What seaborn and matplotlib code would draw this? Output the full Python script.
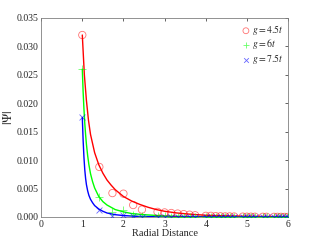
import numpy as np
import matplotlib
matplotlib.use("Agg")
import matplotlib.pyplot as plt
import seaborn as sns

# fitted curves
red_x = [1.0, 1.05, 1.1, 1.15, 1.2, 1.3, 1.4, 1.5, 1.6, 1.7, 1.8, 2.0, 2.2, 2.4, 2.6, 2.8,
         3.0, 3.3, 3.6, 4.0, 4.5, 5.0, 5.5, 6.0]
red_y = [0.032, 0.025, 0.0205, 0.017, 0.0145, 0.0113, 0.0092, 0.0077, 0.0065, 0.0056, 0.0048,
         0.0036, 0.0028, 0.0022, 0.0017, 0.0013, 0.0010, 0.0007, 0.0005, 0.0003, 0.0002,
         0.00012, 0.00008, 0.00005]
green_x = [1.0, 1.02, 1.04, 1.06, 1.08, 1.1, 1.13, 1.16, 1.2, 1.25, 1.3, 1.4, 1.5, 1.6, 1.8,
           2.0, 2.2, 2.5, 3.0, 3.5, 4.0, 5.0, 6.0]
green_y = [0.026, 0.022, 0.019, 0.0165, 0.0145, 0.0128, 0.0108, 0.0092, 0.0076, 0.0062, 0.0051,
           0.0036, 0.0027, 0.0021, 0.0013, 0.0009, 0.0006, 0.0004, 0.00018, 0.00009, 0.00005,
           0.00001, 0.0]
blue_x = [1.0, 1.02, 1.04, 1.06, 1.08, 1.1, 1.13, 1.16, 1.2, 1.25, 1.3, 1.4, 1.5, 1.6, 1.8,
          2.0, 2.3, 2.6, 3.0, 4.0, 5.0, 6.0]
blue_y = [0.0175, 0.0135, 0.0105, 0.0083, 0.0068, 0.0057, 0.0046, 0.0038, 0.0031, 0.0025,
          0.0020, 0.0014, 0.0010, 0.0007, 0.0004, 0.00025, 0.00012, 0.00006, 0.00003, 0.0,
          0.0, 0.0]

# lattice distances of the data points
r = [1.0, 1.414, 1.732, 2.0, 2.236, 2.449, 2.828, 3.0, 3.162, 3.317, 3.464, 3.606, 3.742,
     4.0, 4.123, 4.243, 4.359, 4.472, 4.583, 4.690, 4.899, 5.0, 5.099, 5.196, 5.385, 5.477,
     5.657, 5.745, 5.831, 5.916, 6.0]
psi_45 = [0.032, 0.0088, 0.0042, 0.0041, 0.0021, 0.0013, 0.0009, 0.0008, 0.0007, 0.0006,
          0.0005, 0.0004, 0.0003, 0.0002, 0.0002, 0.00015, 0.00012, 0.0001, 0.0001, 0.00008,
          0.00006, 0.00005, 0.00005, 0.00004, 0.00003, 0.00003, 0.00002, 0.00002, 0.00002,
          0.00001, 0.00001]
psi_6 = [0.026, 0.0035, 0.0008, 0.0013, 0.0004, 0.0002, 0.0001, 0.0001, 0.00005, 0.00004,
         0.00003, 0.00002, 0.00002, 0.00001, 0.00001, 0.00001, 0.0, 0.0, 0.0, 0.0, 0.0, 0.0,
         0.0, 0.0, 0.0, 0.0, 0.0, 0.0, 0.0, 0.0, 0.0]
psi_75 = [0.0175, 0.0013, 0.0002, 0.0004, 0.0001, 0.00005, 0.00002, 0.00001, 0.0, 0.0, 0.0,
          0.0, 0.0, 0.0, 0.0, 0.0, 0.0, 0.0, 0.0, 0.0, 0.0, 0.0, 0.0, 0.0, 0.0, 0.0, 0.0, 0.0,
          0.0, 0.0, 0.0]

labels = [r'$g = 4.5t$', r'$g = 6t$', r'$g = 7.5t$']

sns.set_style("white")
plt.rcParams['font.family'] = ['Liberation Serif', 'DejaVu Serif']
plt.rcParams['mathtext.fontset'] = 'stix'

fig = plt.figure(figsize=(3.19, 2.46), dpi=100)
ax = fig.add_axes([0.129, 0.118, 0.774, 0.809])

sns.scatterplot(x=r, y=psi_45, marker='o', s=28, facecolors='none', edgecolor='#ff0000',
                linewidth=0.6, alpha=0.55, label=labels[0], ax=ax, zorder=3)
sns.scatterplot(x=r, y=psi_6, marker='+', s=30, color='#00ff00', linewidth=0.6, alpha=0.6,
                label=labels[1], ax=ax, zorder=3)
sns.scatterplot(x=r, y=psi_75, marker='x', s=18, color='#0000ff', linewidth=0.6, alpha=0.6,
                label=labels[2], ax=ax, zorder=3)

sns.lineplot(x=red_x, y=red_y, color='#ff0000', linewidth=1.0, ax=ax, zorder=2)
sns.lineplot(x=green_x, y=green_y, color='#00ff00', linewidth=1.0, ax=ax, zorder=2)
sns.lineplot(x=blue_x, y=blue_y, color='#0000ff', linewidth=1.0, ax=ax, zorder=2)

ax.set_xlim(0, 6)
ax.set_ylim(0, 0.035)
ax.set_xticks(range(7))
ax.set_yticks(np.arange(0, 0.0351, 0.005))
ax.set_yticklabels(['%.3f' % v for v in np.arange(0, 0.0351, 0.005)])
ax.tick_params(direction='in', length=2.5, width=0.5, colors='#262626', labelsize=7,
               top=True, right=True, pad=2)
for s in ax.spines.values():
    s.set_color('#808080')
    s.set_linewidth(0.6)

ax.set_xlabel('Radial Distance', fontsize=7.5, labelpad=0)
ax.set_ylabel(r'$|\Psi|$', fontsize=9, labelpad=1)

leg = ax.legend(loc='upper right', frameon=False, fontsize=7, handletextpad=0.1,
                borderaxespad=0.3, borderpad=0.2, labelspacing=0.05, handlelength=1.0,
                handleheight=0.5, markerscale=0.8)

fig.savefig('out.png', dpi=100)
